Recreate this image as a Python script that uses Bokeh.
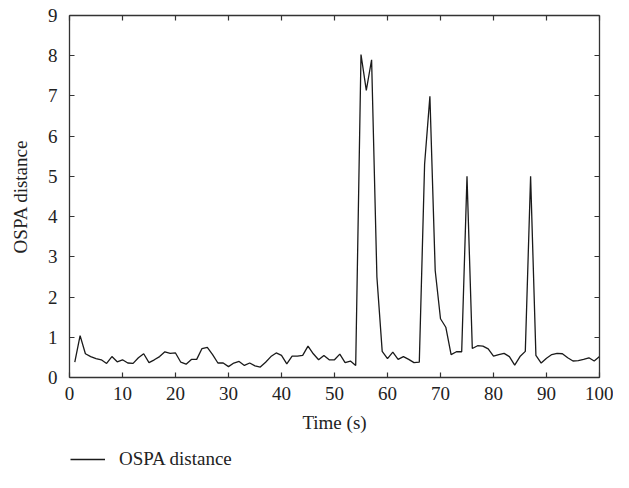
from bokeh.plotting import figure
from bokeh.layouts import column
from bokeh.models import LinearAxis, FixedTicker, Legend, LegendItem, CustomLabelingPolicy
from bokeh.embed import file_html
from bokeh.resources import INLINE

time_s = list(range(1, 101))
ospa = [
    0.38, 1.04, 0.59, 0.52, 0.47, 0.44, 0.35, 0.52, 0.39, 0.44,
    0.36, 0.35, 0.49, 0.59, 0.37, 0.44, 0.52, 0.64, 0.60, 0.61,
    0.38, 0.33, 0.45, 0.45, 0.72, 0.75, 0.57, 0.36, 0.36, 0.27,
    0.36, 0.40, 0.30, 0.36, 0.29, 0.26, 0.38, 0.52, 0.61, 0.55,
    0.34, 0.53, 0.53, 0.55, 0.78, 0.59, 0.44, 0.55, 0.44, 0.44,
    0.58, 0.37, 0.41, 0.30, 8.03, 7.14, 7.90, 2.50, 0.65, 0.47,
    0.63, 0.45, 0.52, 0.45, 0.37, 0.38, 5.30, 6.99, 2.66, 1.46,
    1.25, 0.57, 0.64, 0.64, 5.00, 0.72, 0.79, 0.78, 0.71, 0.53,
    0.57, 0.60, 0.52, 0.31, 0.52, 0.65, 5.00, 0.55, 0.36, 0.48,
    0.57, 0.60, 0.59, 0.49, 0.41, 0.42, 0.45, 0.49, 0.41, 0.52,
]
x_ticks = [0, 10, 20, 30, 40, 50, 60, 70, 80, 90, 100]
y_ticks = [0, 1, 2, 3, 4, 5, 6, 7, 8, 9]
series_name = "OSPA distance"

FONT = "Liberation Serif"
FS = "19px"
AX = "#333333"
LINE = "#1a1a1a"

p = figure(width=613, height=443, x_range=(0, 100), y_range=(0, 9),
           output_backend="svg", toolbar_location=None,
           min_border_left=69, min_border_right=14, min_border_top=15,
           min_border_bottom=66)
p.xgrid.visible = False
p.ygrid.visible = False
p.outline_line_color = None
p.background_fill_color = "white"
p.border_fill_color = "white"

no_labels = CustomLabelingPolicy(code="""
for (const i of indices) { indices.unset(i) }
return indices
""")

def style(ax, labels=True):
    ax.axis_line_color = AX
    ax.axis_line_width = 1.3
    ax.major_tick_line_color = AX
    ax.major_tick_line_width = 1.2
    ax.major_tick_in = 5
    ax.major_tick_out = 0
    ax.minor_tick_line_color = None
    ax.major_label_text_font = FONT
    ax.major_label_text_color = "#222222"
    if labels:
        ax.major_label_text_font_size = FS
    else:
        ax.major_label_text_font_size = "1px"
        ax.major_label_standoff = 0
        ax.major_label_policy = no_labels

p.xaxis.ticker = FixedTicker(ticks=x_ticks)
p.yaxis.ticker = FixedTicker(ticks=y_ticks)
style(p.xaxis[0])
style(p.yaxis[0])
p.xaxis.major_label_standoff = 9
p.yaxis.major_label_standoff = 12
p.xaxis.axis_label = "Time (s)"
p.yaxis.axis_label = "OSPA distance"
for ax in (p.xaxis[0], p.yaxis[0]):
    ax.axis_label_text_font = FONT
    ax.axis_label_text_font_size = FS
    ax.axis_label_text_font_style = "normal"
    ax.axis_label_text_color = "#222222"
p.xaxis.axis_label_standoff = 9
p.yaxis.axis_label_standoff = 14

top = LinearAxis(ticker=FixedTicker(ticks=x_ticks))
style(top, labels=False)
p.add_layout(top, "above")
right = LinearAxis(ticker=FixedTicker(ticks=y_ticks))
style(right, labels=False)
p.add_layout(right, "right")

p.line(time_s, ospa, line_color=LINE, line_width=1.3)

# legend strip below the chart (same series, drawn outside its visible range)
lg = figure(width=613, height=29, x_range=(0, 100), y_range=(-20, -10),
            output_backend="svg", toolbar_location=None,
            x_axis_type=None, y_axis_type=None,
            min_border_left=0, min_border_right=0, min_border_top=0,
            min_border_bottom=0)
lg.xgrid.visible = False
lg.ygrid.visible = False
lg.outline_line_color = None
lg.background_fill_color = "white"
lg.border_fill_color = "white"
r2 = lg.line(time_s, ospa, line_color=LINE, line_width=1.3)
legend = Legend(items=[LegendItem(label=series_name, renderers=[r2])],
                location=(1, 2), orientation="horizontal",
                background_fill_alpha=0, border_line_color=None,
                label_text_font=FONT, label_text_font_size=FS,
                label_text_color="#222222", glyph_width=35, glyph_height=20,
                label_standoff=14, padding=0, margin=0, spacing=0)
lg.add_layout(legend, "center")

layout = column(p, lg, spacing=0)
open("out.html", "w").write(file_html(layout, INLINE))
